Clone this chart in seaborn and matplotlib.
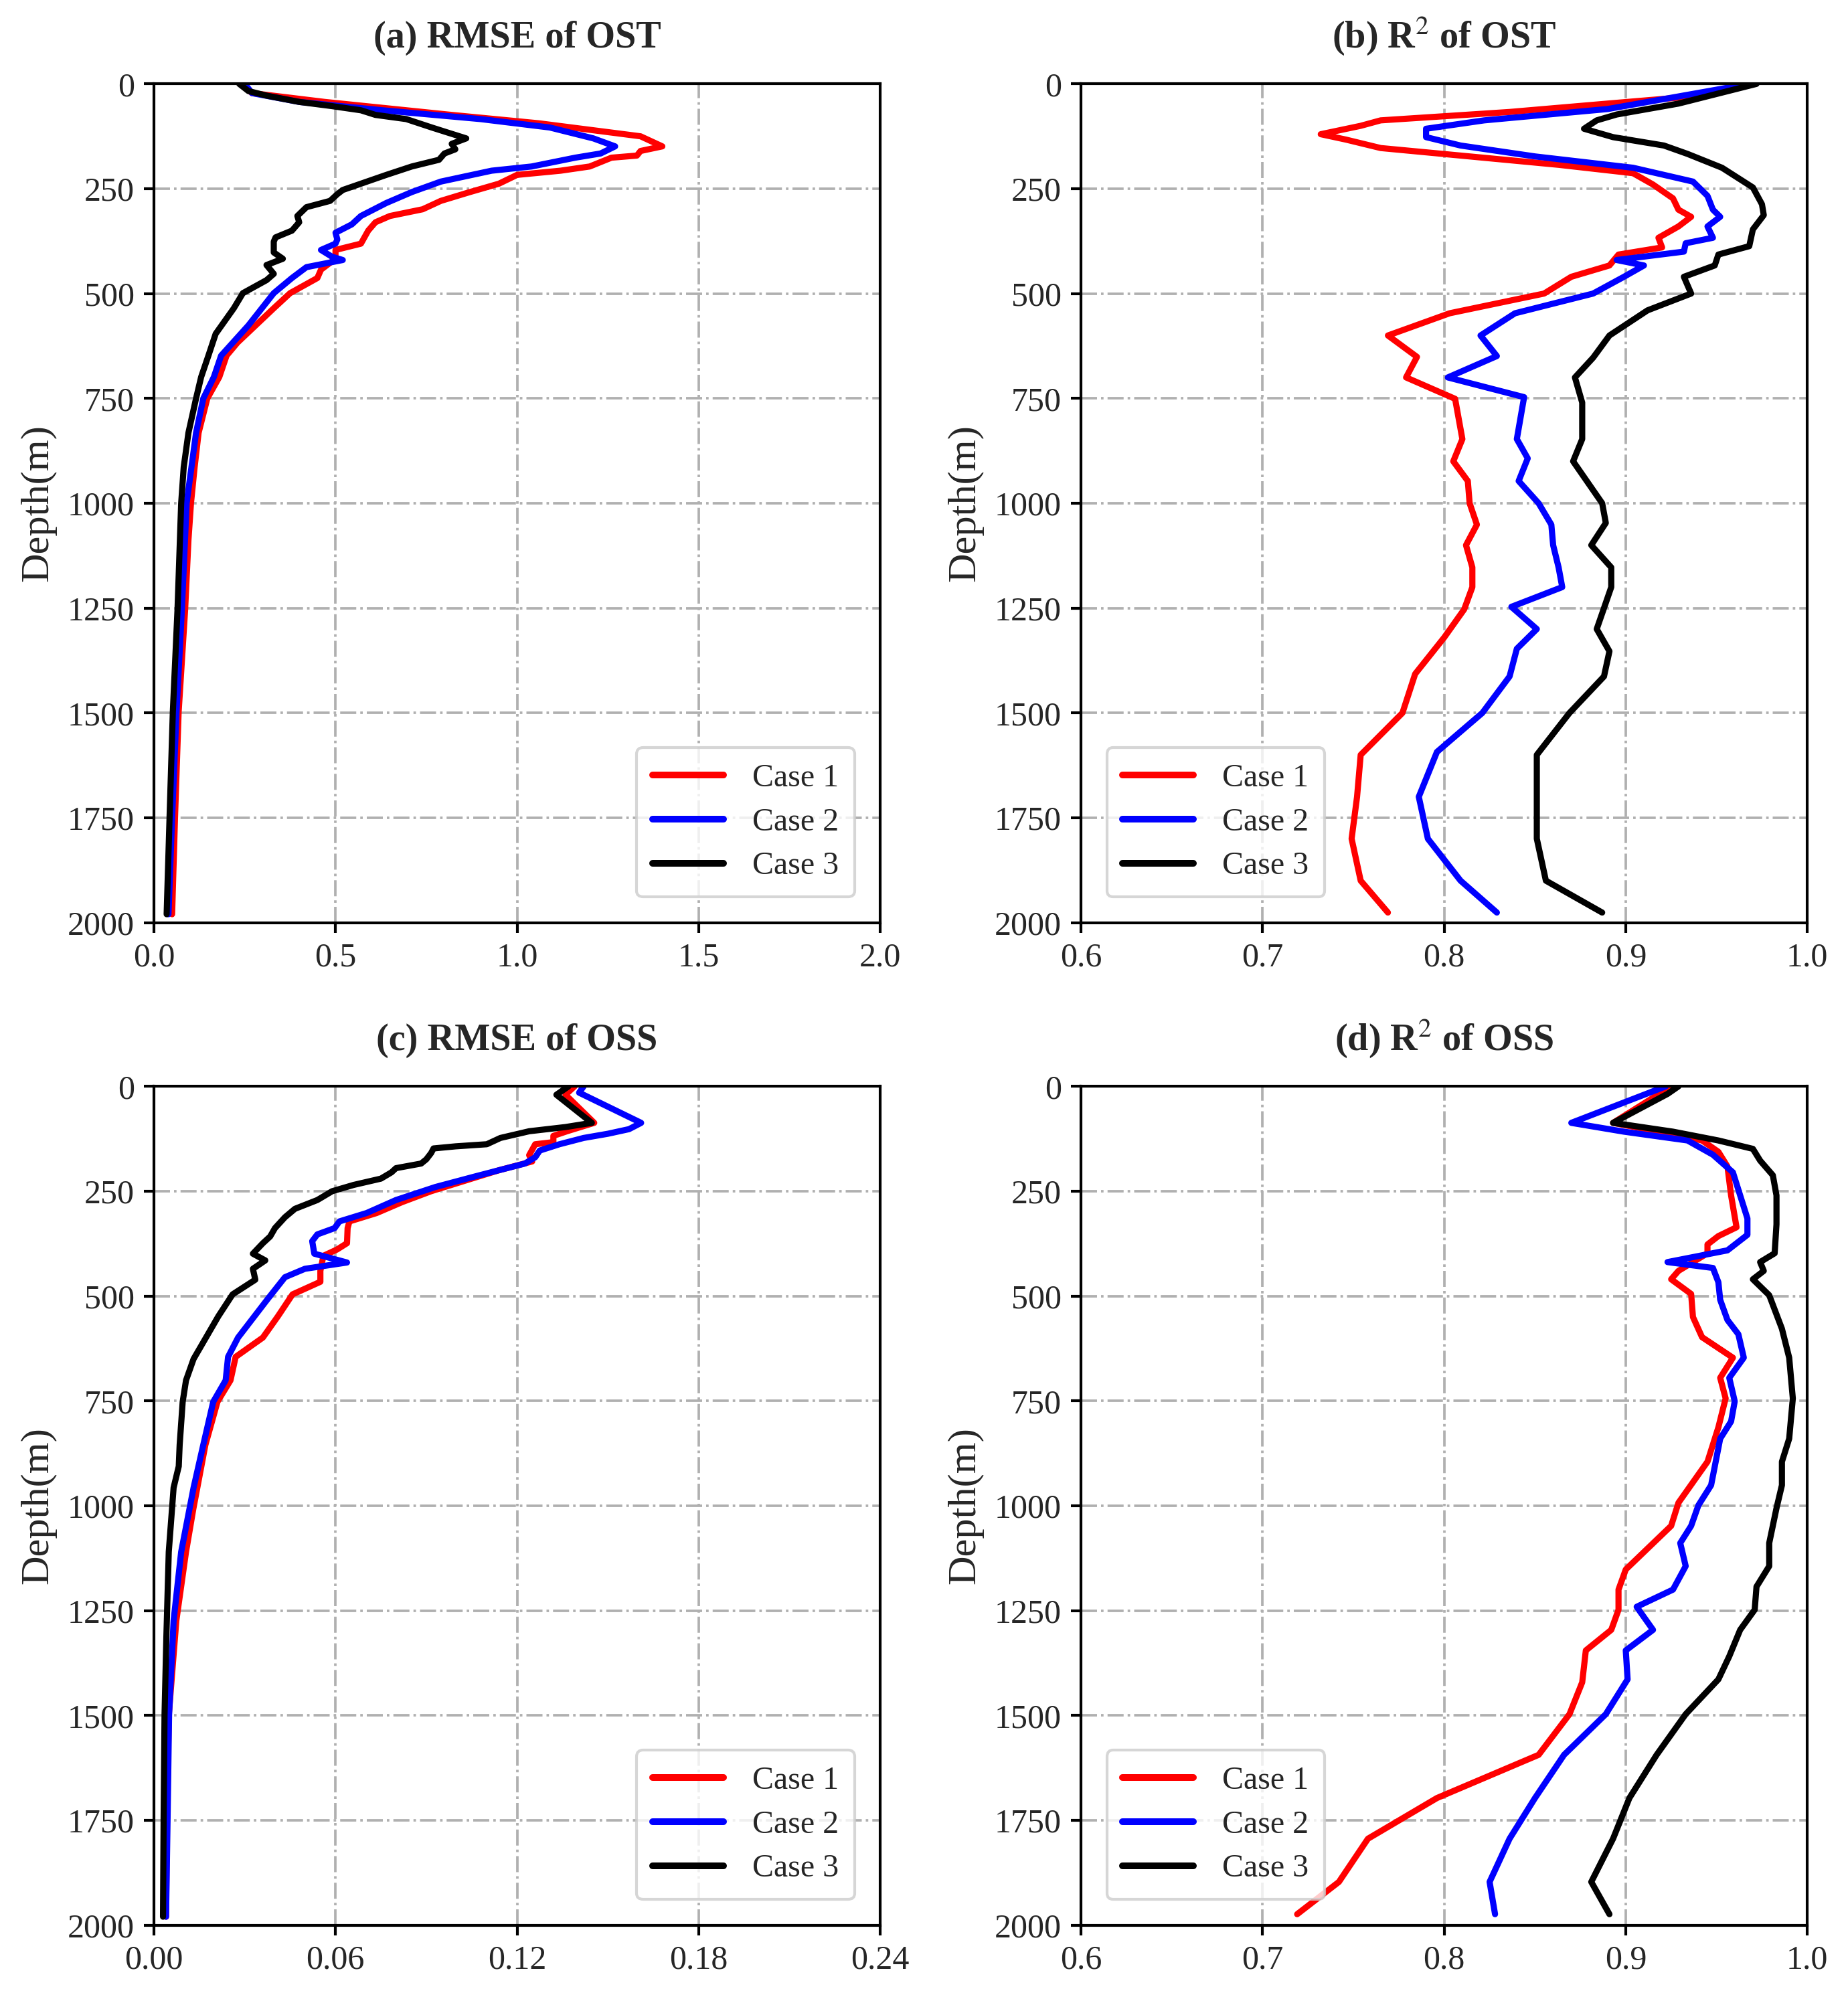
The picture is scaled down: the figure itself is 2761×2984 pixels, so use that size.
import matplotlib
matplotlib.use('Agg')
import pandas as pd
import numpy as np
import matplotlib.pyplot as plt
import seaborn as sns

# ---- (a) RMSE of OST
a_red_d = [0, 22, 43, 74, 94, 115, 125, 149, 160, 171, 176, 197, 207, 217, 238, 258, 279, 299, 315, 330, 350, 381, 396, 417, 443, 463, 499, 535, 576, 617, 648, 699, 750, 832, 914, 1000, 1088, 1252, 1498, 1750, 1980]
a_red_v = [0.24, 0.27, 0.47, 0.82, 1.06, 1.25, 1.34, 1.40, 1.34, 1.33, 1.26, 1.20, 1.12, 1.00, 0.95, 0.87, 0.79, 0.74, 0.65, 0.61, 0.59, 0.57, 0.50, 0.50, 0.46, 0.45, 0.375, 0.33, 0.28, 0.23, 0.20, 0.18, 0.147, 0.123, 0.112, 0.102, 0.095, 0.086, 0.068, 0.058, 0.05]
a_blue_d = [0, 22, 43, 63, 84, 104, 130, 149, 166, 176, 197, 207, 233, 258, 284, 315, 335, 355, 371, 381, 396, 412, 420, 437, 463, 499, 576, 648, 699, 750, 832, 1000, 1252, 1500, 1750, 1980]
a_blue_v = [0.25, 0.27, 0.40, 0.63, 0.90, 1.09, 1.21, 1.27, 1.23, 1.16, 1.04, 0.93, 0.79, 0.71, 0.64, 0.57, 0.545, 0.50, 0.505, 0.50, 0.46, 0.49, 0.52, 0.42, 0.38, 0.33, 0.26, 0.185, 0.165, 0.136, 0.116, 0.09, 0.077, 0.062, 0.05, 0.04]
a_black_d = [0, 17, 28, 43, 53, 63, 74, 84, 104, 115, 130, 143, 156, 166, 181, 197, 217, 238, 253, 263, 279, 294, 315, 330, 350, 366, 376, 402, 417, 432, 453, 468, 499, 535, 596, 648, 699, 750, 832, 914, 1000, 1252, 1498, 1750, 1980]
a_black_v = [0.235, 0.26, 0.31, 0.40, 0.49, 0.57, 0.61, 0.695, 0.765, 0.805, 0.86, 0.82, 0.83, 0.80, 0.785, 0.71, 0.64, 0.57, 0.52, 0.505, 0.485, 0.42, 0.395, 0.40, 0.38, 0.335, 0.33, 0.33, 0.355, 0.31, 0.33, 0.31, 0.245, 0.22, 0.17, 0.15, 0.13, 0.116, 0.095, 0.082, 0.075, 0.065, 0.052, 0.043, 0.035]

# ---- (b) R2 of OST
b_red_d = [0, 27, 47, 67, 87, 100, 120, 133, 153, 173, 193, 213, 240, 273, 300, 317, 340, 367, 390, 407, 433, 460, 500, 547, 600, 651, 700, 751, 847, 900, 947, 1000, 1051, 1100, 1153, 1200, 1253, 1320, 1407, 1500, 1600, 1700, 1800, 1900, 1976]
b_red_v = [0.971, 0.945, 0.89, 0.836, 0.765, 0.754, 0.732, 0.746, 0.765, 0.814, 0.863, 0.904, 0.915, 0.926, 0.929, 0.936, 0.929, 0.918, 0.92, 0.896, 0.891, 0.87, 0.855, 0.803, 0.769, 0.785, 0.779, 0.806, 0.81, 0.805, 0.813, 0.814, 0.818, 0.812, 0.8155, 0.8155, 0.811, 0.80, 0.784, 0.777, 0.754, 0.752, 0.749, 0.754, 0.769]
b_blue_d = [0, 60, 87, 107, 127, 147, 173, 200, 233, 267, 300, 317, 340, 367, 380, 400, 420, 433, 460, 500, 547, 600, 649, 700, 747, 847, 893, 947, 1000, 1051, 1100, 1153, 1200, 1247, 1300, 1347, 1413, 1500, 1593, 1700, 1800, 1900, 1976]
b_blue_v = [0.968, 0.89, 0.822, 0.79, 0.79, 0.809, 0.85, 0.904, 0.937, 0.945, 0.948, 0.952, 0.945, 0.948, 0.933, 0.932, 0.895, 0.91, 0.899, 0.882, 0.839, 0.82, 0.829, 0.802, 0.844, 0.84, 0.846, 0.841, 0.852, 0.859, 0.86, 0.863, 0.865, 0.837, 0.851, 0.84, 0.836, 0.821, 0.796, 0.786, 0.791, 0.809, 0.829]
b_black_d = [0, 47, 73, 87, 107, 127, 147, 167, 200, 247, 287, 313, 347, 387, 407, 433, 460, 500, 540, 600, 653, 700, 760, 847, 900, 1000, 1047, 1100, 1153, 1200, 1300, 1353, 1413, 1500, 1600, 1700, 1800, 1900, 1976]
b_black_v = [0.972, 0.929, 0.895, 0.884, 0.877, 0.893, 0.921, 0.934, 0.953, 0.97, 0.975, 0.976, 0.97, 0.968, 0.951, 0.949, 0.932, 0.936, 0.912, 0.891, 0.882, 0.872, 0.876, 0.876, 0.871, 0.887, 0.889, 0.881, 0.892, 0.892, 0.884, 0.891, 0.888, 0.869, 0.851, 0.851, 0.851, 0.856, 0.887]

# ---- (c) RMSE of OSS
c_red_d = [0, 20, 87, 107, 118, 133, 138, 164, 179, 200, 220, 250, 276, 302, 322, 338, 374, 389, 404, 440, 466, 496, 548, 599, 645, 701, 752, 855, 1008, 1110, 1274, 1500, 1750, 1980]
c_red_v = [0.139, 0.136, 0.1455, 0.1365, 0.132, 0.132, 0.126, 0.124, 0.125, 0.114, 0.105, 0.0916, 0.082, 0.0736, 0.0646, 0.064, 0.0638, 0.0605, 0.056, 0.055, 0.055, 0.0458, 0.041, 0.036, 0.027, 0.0253, 0.021, 0.017, 0.013, 0.0106, 0.0074, 0.0049, 0.0043, 0.004]
c_blue_d = [0, 15, 87, 102, 113, 123, 138, 153, 169, 184, 200, 215, 240, 271, 302, 322, 338, 353, 369, 399, 420, 435, 455, 507, 599, 645, 701, 752, 855, 957, 1110, 1274, 1500, 1750, 1980]
c_blue_v = [0.142, 0.1405, 0.161, 0.157, 0.150, 0.142, 0.134, 0.1275, 0.126, 0.1226, 0.114, 0.106, 0.093, 0.080, 0.0703, 0.0613, 0.0597, 0.054, 0.0523, 0.053, 0.0638, 0.0499, 0.0433, 0.0376, 0.0278, 0.0245, 0.0237, 0.0196, 0.0163, 0.0131, 0.009, 0.0065, 0.005, 0.0045, 0.004]
c_black_d = [0, 20, 87, 97, 107, 123, 138, 143, 148, 159, 174, 184, 195, 205, 220, 235, 250, 271, 292, 312, 338, 358, 374, 399, 415, 435, 461, 496, 548, 599, 650, 701, 752, 855, 906, 957, 1110, 1315, 1500, 1750, 1980]
c_black_v = [0.137, 0.133, 0.1447, 0.136, 0.124, 0.1145, 0.110, 0.0997, 0.0924, 0.0916, 0.090, 0.0883, 0.080, 0.0785, 0.075, 0.066, 0.0589, 0.054, 0.0466, 0.0433, 0.040, 0.0384, 0.036, 0.0327, 0.0368, 0.0327, 0.0335, 0.026, 0.0213, 0.0172, 0.0131, 0.0106, 0.0095, 0.0085, 0.0082, 0.0065, 0.0049, 0.0041, 0.0035, 0.0032, 0.003]

# ---- (d) R2 of OSS
d_red_d = [0, 87, 108, 129, 156, 191, 260, 336, 357, 377, 398, 419, 440, 460, 495, 550, 598, 647, 695, 744, 813, 895, 993, 1048, 1152, 1200, 1248, 1296, 1345, 1421, 1497, 1594, 1697, 1794, 1897, 1974]
d_red_v = [0.925, 0.893, 0.918, 0.942, 0.951, 0.956, 0.958, 0.961, 0.951, 0.945, 0.945, 0.937, 0.929, 0.925, 0.936, 0.937, 0.942, 0.959, 0.952, 0.955, 0.951, 0.945, 0.929, 0.925, 0.90, 0.896, 0.896, 0.892, 0.878, 0.876, 0.869, 0.852, 0.796, 0.758, 0.742, 0.719]
d_blue_d = [0, 87, 108, 129, 163, 205, 260, 315, 354, 391, 419, 433, 467, 509, 557, 591, 647, 695, 751, 799, 840, 951, 999, 1048, 1089, 1144, 1200, 1241, 1296, 1345, 1414, 1497, 1594, 1697, 1794, 1897, 1974]
d_blue_v = [0.922, 0.870, 0.899, 0.934, 0.948, 0.959, 0.963, 0.967, 0.967, 0.956, 0.923, 0.948, 0.951, 0.952, 0.956, 0.962, 0.965, 0.957, 0.96, 0.958, 0.952, 0.947, 0.94, 0.936, 0.930, 0.933, 0.926, 0.906, 0.915, 0.90, 0.901, 0.889, 0.866, 0.850, 0.836, 0.825, 0.828]
d_black_d = [0, 18, 87, 108, 129, 149, 177, 212, 260, 329, 398, 419, 440, 460, 498, 578, 647, 744, 840, 895, 951, 1006, 1089, 1144, 1193, 1248, 1296, 1359, 1414, 1497, 1594, 1697, 1794, 1897, 1974]
d_black_v = [0.929, 0.923, 0.893, 0.926, 0.951, 0.97, 0.974, 0.981, 0.983, 0.983, 0.982, 0.974, 0.976, 0.970, 0.979, 0.986, 0.990, 0.992, 0.990, 0.986, 0.986, 0.983, 0.979, 0.979, 0.972, 0.971, 0.963, 0.957, 0.951, 0.933, 0.917, 0.902, 0.893, 0.881, 0.891]

cases = ['Case 1', 'Case 2', 'Case 3']
colors = ['red', 'blue', 'black']
titles = ['(a) RMSE of OST', '(b) R$^2$ of OST', '(c) RMSE of OSS', '(d) R$^2$ of OSS']
xticks = [[0.0, 0.5, 1.0, 1.5, 2.0], [0.6, 0.7, 0.8, 0.9, 1.0],
          [0.00, 0.06, 0.12, 0.18, 0.24], [0.6, 0.7, 0.8, 0.9, 1.0]]
xticklabels = [['0.0', '0.5', '1.0', '1.5', '2.0'], ['0.6', '0.7', '0.8', '0.9', '1.0'],
               ['0.00', '0.06', '0.12', '0.18', '0.24'], ['0.6', '0.7', '0.8', '0.9', '1.0']]
yticks = [0, 250, 500, 750, 1000, 1250, 1500, 1750, 2000]
legend_loc = ['lower right', 'lower left', 'lower right', 'lower left']

panels = [
    [(a_red_d, a_red_v), (a_blue_d, a_blue_v), (a_black_d, a_black_v)],
    [(b_red_d, b_red_v), (b_blue_d, b_blue_v), (b_black_d, b_black_v)],
    [(c_red_d, c_red_v), (c_blue_d, c_blue_v), (c_black_d, c_black_v)],
    [(d_red_d, d_red_v), (d_blue_d, d_blue_v), (d_black_d, d_black_v)],
]


def make_df(series):
    parts = []
    for name, (d, v) in zip(cases, series):
        parts.append(pd.DataFrame({'depth': d, 'value': v, 'case': name}))
    return pd.concat(parts, ignore_index=True)


sns.set_style("ticks")
plt.rcParams['font.family'] = ['Liberation Serif', 'DejaVu Serif']
plt.rcParams['mathtext.fontset'] = 'stix'
plt.rcParams['axes.edgecolor'] = 'black'
plt.rcParams['axes.linewidth'] = 1.0

fig = plt.figure(figsize=(2761 / 300, 2984 / 300), dpi=300)
boxes = [[0.0833, 0.538, 0.393, 0.420], [0.585, 0.538, 0.393, 0.420],
         [0.0833, 0.036, 0.393, 0.420], [0.585, 0.036, 0.393, 0.420]]

for i in range(4):
    ax = fig.add_axes(boxes[i])
    df = make_df(panels[i])
    sns.lineplot(data=df, x='value', y='depth', hue='case', palette=colors,
                 sort=False, estimator=None, orient='y', lw=2.2, ax=ax)
    ax.set_xlim(xticks[i][0], xticks[i][-1])
    ax.set_ylim(2000, 0)
    ax.set_xticks(xticks[i])
    ax.set_xticklabels(xticklabels[i])
    ax.set_yticks(yticks)
    ax.tick_params(labelsize=12, length=3.5, width=1.0, color='black')
    ax.grid(True, linestyle='-.', color='#b0b0b0', linewidth=0.9)
    ax.set_xlabel('')
    ax.set_ylabel('Depth(m)', fontsize=14.5)
    ax.set_title(titles[i], fontsize=13.5, fontweight='bold', pad=13)
    leg = ax.legend(loc=legend_loc[i], fontsize=11.5, frameon=True, fancybox=True,
                    handlelength=2.2, borderpad=0.5, labelspacing=0.45, handletextpad=0.9,
                    borderaxespad=0.8)
    leg.get_frame().set_edgecolor('#cccccc')
    for line in leg.get_lines():
        line.set_linewidth(2.4)

fig.savefig('out.png', dpi=300)
